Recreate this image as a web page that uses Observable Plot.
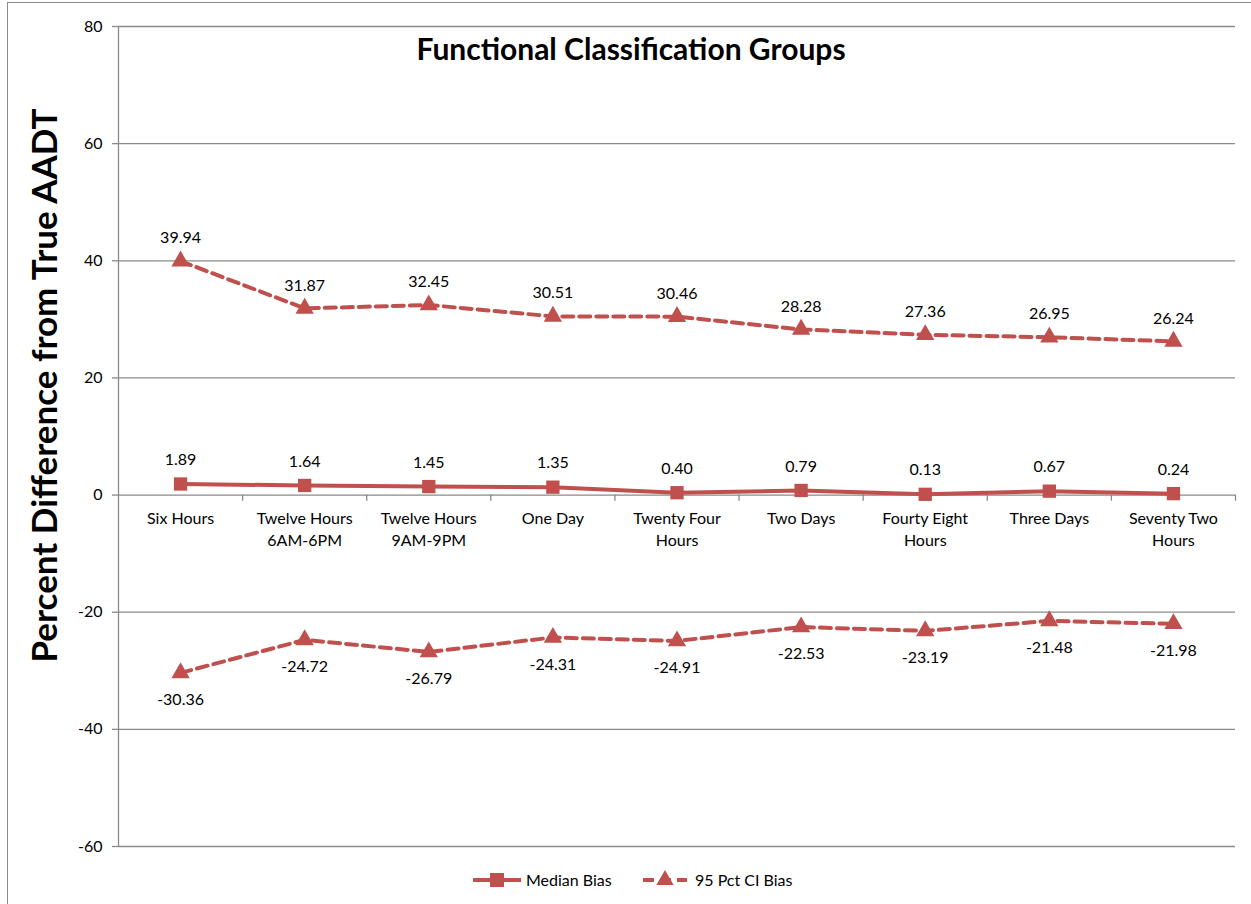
<!DOCTYPE html>
<html><head><meta charset="utf-8">
<script src="https://cdn.jsdelivr.net/npm/d3@7"></script>
<script src="https://cdn.jsdelivr.net/npm/@observablehq/plot@0.6"></script>
<style>
body{margin:0;background:#fff;font-family:Lato,"Open Sans",sans-serif;}
#wrap{position:relative;width:1251px;height:904px;overflow:hidden;}
#border{position:absolute;left:7px;top:2px;width:1300px;height:1000px;border-left:1.5px solid #8c8c8c;border-top:1.5px solid #8c8c8c;}
#chart{position:absolute;left:0;top:0;}
#legend{position:absolute;left:0;top:862px;width:1251px;height:36px;}
</style></head>
<body><div id="wrap"><div id="border"></div><div id="chart"></div><div id="legend"></div></div>
<script>
const categories = ["Six Hours","Twelve Hours\n6AM-6PM","Twelve Hours\n9AM-9PM","One Day","Twenty Four\nHours","Two Days","Fourty Eight\nHours","Three Days","Seventy Two\nHours"];
const medianBias = [1.89,1.64,1.45,1.35,0.40,0.79,0.13,0.67,0.24];
const ciUpper = [39.94,31.87,32.45,30.51,30.46,28.28,27.36,26.95,26.24];
const ciLower = [-30.36,-24.72,-26.79,-24.31,-24.91,-22.53,-23.19,-21.48,-21.98];
const yTicks = [-60,-40,-20,0,20,40,60,80];
const title = "Functional Classification Groups";
const yLabel = "Percent Difference from True AADT";
const seriesNames = ["Median Bias","95 Pct CI Bias"];

const red = "#c0504d";
const grid = "#8a8a8a";
const font = "Lato, 'Open Sans', sans-serif";

const med = categories.map((c,i)=>({i:i+0.5,c,v:medianBias[i]}));
const up = categories.map((c,i)=>({i:i+0.5,c,v:ciUpper[i]}));
const lo = categories.map((c,i)=>({i:i+0.5,c,v:ciLower[i]}));
const bounds = d3.range(0, categories.length + 1);
const dash = "11,6";

const chart = Plot.plot({
  width: 1251, height: 862,
  marginLeft: 118, marginRight: 16, marginTop: 26, marginBottom: 16,
  style: {fontFamily: font, fontSize: "16px", color: "#000", background: "transparent"},
  x: {domain: [0, categories.length], axis: null},
  y: {domain: [-60, 80], axis: null},
  marks: [
    Plot.ruleY(yTicks, {stroke: grid, strokeWidth: 1.3}),
    Plot.ruleX([0], {stroke: grid, strokeWidth: 1.3}),
    Plot.axisY(yTicks, {anchor: "left", label: null, tickSize: 6, tickPadding: 10, stroke: grid, strokeWidth: 1.3, fontSize: 16, tickFormat: d => d}),
    Plot.ruleX(bounds.slice(1), {x: d => d, y1: 0, y2: -1.05, stroke: grid, strokeWidth: 1.3}),
    Plot.text(med, {x: "i", y: () => 0, text: "c", dy: 13, lineAnchor: "top", lineHeight: 1.4, fontSize: 16}),
    Plot.line(up, {x: "i", y: "v", stroke: red, strokeWidth: 4, strokeDasharray: dash}),
    Plot.line(lo, {x: "i", y: "v", stroke: red, strokeWidth: 4, strokeDasharray: dash}),
    Plot.line(med, {x: "i", y: "v", stroke: red, strokeWidth: 4}),
    Plot.dot(up, {x: "i", y: "v", symbol: "triangle", r: 6.8, fill: red}),
    Plot.dot(lo, {x: "i", y: "v", symbol: "triangle", r: 6.8, fill: red}),
    Plot.dot(med, {x: "i", y: "v", symbol: "square", r: 7.5, fill: red}),
    Plot.text(med, {x: "i", y: "v", text: d => d.v.toFixed(2), dy: -24, fontSize: 16}),
    Plot.text(up, {x: "i", y: "v", text: d => d.v.toFixed(2), dy: -23, fontSize: 16}),
    Plot.text(lo, {x: "i", y: "v", text: d => d.v.toFixed(2), dy: 27, fontSize: 16}),
    Plot.text([title], {frameAnchor: "top", dx: -46, dy: 12, fontSize: 30, fontWeight: "bold"}),
    Plot.text([yLabel], {frameAnchor: "left", textAnchor: "middle", dx: -73, dy: -51, rotate: -90, fontSize: 35, fontWeight: "bold"})
  ]
});
document.getElementById("chart").appendChild(chart);

const lg = d3.select("#legend").append("svg").attr("width", 1251).attr("height", 36)
  .style("font-family", font).style("font-size", "16px");
const ly = 18;
const g1 = lg.append("g");
g1.append("line").attr("x1", 473).attr("x2", 521).attr("y1", ly).attr("y2", ly).attr("stroke", red).attr("stroke-width", 4);
g1.append("rect").attr("x", 490).attr("y", ly-7).attr("width", 14).attr("height", 14).attr("fill", red);
g1.append("text").attr("x", 526).attr("y", ly).attr("dy", "0.35em").text(seriesNames[0]);
const g2 = lg.append("g");
g2.append("line").attr("x1", 643).attr("x2", 687).attr("y1", ly).attr("y2", ly).attr("stroke", red).attr("stroke-width", 4).attr("stroke-dasharray", dash);
g2.append("path").attr("d", d3.symbol(d3.symbolTriangle, 130)()).attr("transform", `translate(665,${ly})`).attr("fill", red);
g2.append("text").attr("x", 695).attr("y", ly).attr("dy", "0.35em").text(seriesNames[1]);
</script></body></html>
